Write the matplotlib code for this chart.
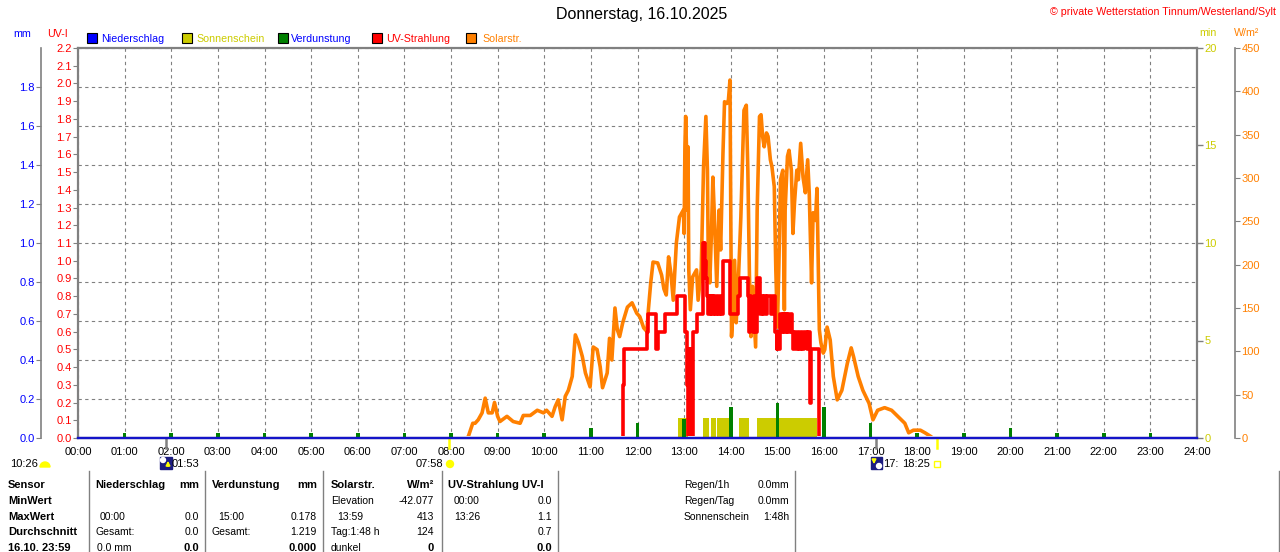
import matplotlib
matplotlib.use('Agg')
import matplotlib.pyplot as plt
from matplotlib.patches import Rectangle, Wedge, Circle
from matplotlib.ticker import MultipleLocator
import numpy as np

plt.rcParams['font.family'] = ['Liberation Sans', 'DejaVu Sans']

# ---------------- Daten ----------------
hours = list(range(25))
hour_labels = ['%02d:00' % h for h in hours]

# Niederschlag (mm) - den ganzen Tag 0
rain_mm = [0.0, 0.0, 0.0, 0.0, 0.0, 0.0, 0.0, 0.0, 0.0, 0.0, 0.0, 0.0, 0.0,
           0.0, 0.0, 0.0, 0.0, 0.0, 0.0, 0.0, 0.0, 0.0, 0.0, 0.0, 0.0]

# Verdunstung (mm) je Stunde
evap_h = [1, 2, 3, 4, 5, 6, 7, 8, 9, 10, 11, 12, 13, 14, 15, 16, 17, 18, 19, 20, 21, 22, 23]
evap_mm = [0.025, 0.025, 0.025, 0.025, 0.025, 0.025, 0.025, 0.025, 0.025, 0.025, 0.05, 0.077,
           0.1, 0.16, 0.178, 0.16, 0.077, 0.025, 0.025, 0.05, 0.025, 0.025, 0.025]

# Sonnenschein (min)
sun_start = ['12:52', '13:24', '13:35', '13:42', '14:10', '14:34']
sun_end = ['13:05', '13:32', '13:41', '13:58', '14:23', '15:51']
sun_min = [1.05, 1.05, 1.05, 1.05, 1.05, 1.05]

# Solarstrahlung (W/m2)
solar_t = ['00:00', '08:20', '08:22', '08:28', '08:31', '08:35', '08:40', '08:44', '08:48', '08:53',
           '08:56', '09:00', '09:03', '09:12', '09:20', '09:29', '09:33', '09:42', '09:51', '09:59',
           '10:03', '10:10', '10:14', '10:18', '10:23', '10:27', '10:31', '10:36', '10:40', '10:44',
           '10:49', '10:53', '10:59', '11:03', '11:08', '11:12', '11:15', '11:21', '11:24', '11:27',
           '11:31', '11:34', '11:37', '11:41', '11:47', '11:53', '11:59', '12:03', '12:08', '12:12',
           '12:14', '12:17', '12:20', '12:26', '12:31', '12:34', '12:37', '12:40', '12:43', '12:46',
           '12:50', '12:54', '12:59', '13:00', '13:01', '13:02', '13:03', '13:04', '13:05', '13:06',
           '13:08', '13:11', '13:16', '13:18', '13:22', '13:25', '13:28', '13:30', '13:31', '13:33',
           '13:35', '13:37', '13:39', '13:42', '13:45', '13:47', '13:50', '13:52', '13:55', '13:57',
           '13:59', '14:01', '14:02', '14:05', '14:07', '14:10', '14:13', '14:17', '14:20', '14:22',
           '14:24', '14:26', '14:28', '14:32', '14:34', '14:37', '14:39', '14:41', '14:43', '14:46',
           '14:48', '14:51', '14:53', '14:56', '14:58', '15:00', '15:02', '15:04', '15:07', '15:09',
           '15:10', '15:13', '15:15', '15:18', '15:20', '15:22', '15:25', '15:27', '15:30', '15:33',
           '15:36', '15:39', '15:41', '15:44', '15:46', '15:49', '15:51', '15:54', '15:56', '15:59',
           '16:01', '16:04', '16:08', '16:12', '16:17', '16:23', '16:30', '16:35', '16:38', '16:44',
           '16:50', '16:58', '17:03', '17:09', '17:18', '17:27', '17:35', '17:44', '17:49', '17:55',
           '18:04', '18:10', '18:17', '18:20']
solar_w = [0, 0, 1, 17, 17, 21, 29, 46, 29, 29,
           41, 25, 19, 25, 19, 17, 26, 26, 32, 29,
           32, 25, 36, 44, 21, 48, 55, 71, 119, 110,
           94, 75, 59, 105, 102, 82, 58, 75, 115, 90,
           150, 125, 117, 133, 151, 156, 144, 140, 127, 123,
           148, 179, 203, 202, 188, 172, 165, 209, 190, 159,
           225, 255, 263, 236, 336, 371, 336, 263, 336, 194,
           148, 186, 194, 159, 194, 313, 371, 309, 213, 179,
           232, 301, 255, 175, 263, 217, 329, 388, 386, 390,
           413, 117, 133, 205, 133, 186, 255, 378, 384, 309,
           190, 117, 175, 105, 263, 371, 373, 348, 336, 352,
           348, 321, 313, 290, 194, 128, 202, 298, 309, 148,
           263, 325, 332, 309, 236, 271, 309, 298, 340, 301,
           283, 321, 283, 179, 260, 251, 288, 125, 110, 98,
           102, 128, 113, 71, 44, 55, 86, 104, 94, 71,
           55, 40, 21, 32, 35, 32, 25, 17, 6, 9,
           9, 6, 2, 0]

# UV-Strahlung (UV-I)
uv_points = [('00:00', 0.0), ('11:41', 0.3), ('11:42', 0.5), ('12:12', 0.6), ('12:13', 0.7),
             ('12:24', 0.5), ('12:26', 0.6), ('12:35', 0.7), ('12:51', 0.8), ('13:01', 0.6),
             ('13:04', 0.3), ('13:05', 0.0), ('13:07', 0.5), ('13:08', 0.0), ('13:12', 0.6),
             ('13:16', 0.7), ('13:24', 1.1), ('13:25', 0.9), ('13:26', 1.1), ('13:27', 1.0),
             ('13:28', 0.9), ('13:30', 0.8), ('13:31', 0.7), ('13:32', 0.8), ('13:34', 0.7),
             ('13:35', 0.8), ('13:37', 0.7), ('13:38', 0.8), ('13:40', 0.7), ('13:42', 0.8),
             ('13:44', 0.7), ('13:46', 0.8), ('13:47', 0.7), ('13:50', 1.0), ('13:59', 0.7),
             ('14:09', 0.8), ('14:12', 0.9), ('14:22', 0.8), ('14:23', 0.6), ('14:25', 0.8),
             ('14:26', 0.7), ('14:28', 0.6), ('14:30', 0.8), ('14:31', 0.6), ('14:34', 0.9),
             ('14:38', 0.7), ('14:40', 0.8), ('14:42', 0.7), ('14:43', 0.8), ('14:45', 0.7),
             ('14:47', 0.8), ('14:52', 0.7), ('14:54', 0.8), ('14:57', 0.6), ('14:59', 0.5),
             ('15:00', 0.6), ('15:02', 0.5), ('15:04', 0.7), ('15:06', 0.6), ('15:07', 0.7),
             ('15:09', 0.6), ('15:10', 0.7), ('15:12', 0.6), ('15:13', 0.7), ('15:15', 0.6),
             ('15:17', 0.7), ('15:19', 0.6), ('15:20', 0.5), ('15:22', 0.6), ('15:24', 0.5),
             ('15:26', 0.6), ('15:28', 0.5), ('15:30', 0.6), ('15:32', 0.5), ('15:34', 0.6),
             ('15:38', 0.5), ('15:40', 0.6), ('15:42', 0.2), ('15:43', 0.5), ('15:53', 0.0),
             ('24:00', 0.0)]

# Auf-/Untergang (Mond, Sonne)
event_t = ['01:53', '07:58', '17:07', '18:25']
event_col = ['#808080', '#ffff00', '#808080', '#ffff00']

mm_ticks = [0.0, 0.2, 0.4, 0.6, 0.8, 1.0, 1.2, 1.4, 1.6, 1.8]
uv_ticks = [i / 10 for i in range(23)]
min_ticks = [0, 5, 10, 15, 20]
w_ticks = [0, 50, 100, 150, 200, 250, 300, 350, 400, 450]

C_BLUE = '#0000ff'
C_SUN = '#cccc00'
C_GREEN = '#008000'
C_RED = '#ff0000'
C_ORANGE = '#ff8000'
C_GRAY = '#808080'


def hrs(s):
    h, m = s.split(':')
    return int(h) + int(m) / 60.0


# ---------------- Figur ----------------
W, H = 1280, 552
L, R, T, B = 78, 1197, 48, 438
PT = 72 / 100  # px -> pt

fig = plt.figure(figsize=(W / 100, H / 100), dpi=100)
fig.patch.set_facecolor('white')
ax = fig.add_axes([L / W, 1 - B / H, (R - L) / W, (B - T) / H])
axw = ax.twinx()
axu = ax.twinx()
axm = ax.twinx()
# Verdunstung/Niederschlag zuoberst, wie im Original
axm.set_zorder(ax.get_zorder() + 1)

# Host-Achse: Sonnenschein (min) + Raster
ax.set_xlim(0, 24)
ax.set_ylim(0, 20)
ax.set_xticks(hours)
ax.set_xticklabels(hour_labels, fontsize=8)
ax.tick_params(axis='x', length=0, pad=6.5)
ax.yaxis.tick_right()
ax.set_yticks(min_ticks)
ax.set_yticklabels([str(v) for v in min_ticks], fontsize=8)
ax.tick_params(axis='y', which='major', colors=C_GRAY, labelcolor=C_SUN,
               length=6 * PT, width=1, pad=1)
ax.yaxis.set_minor_locator(MultipleLocator(2))
ax.yaxis.remove_overlapping_locs = False
ax.tick_params(axis='y', which='minor', length=0)
ax.grid(which='minor', axis='y', color=C_GRAY, ls=(0, (3, 3)), lw=0.8)
ax.grid(which='major', axis='x', color=C_GRAY, ls=(0, (3, 3)), lw=0.8)
for s in ax.spines.values():
    s.set_color(C_GRAY)
    s.set_linewidth(1.6)

starts = [hrs(s) for s in sun_start]
widths = [hrs(e) - hrs(s) for s, e in zip(sun_start, sun_end)]
ax.bar(starts, sun_min, width=widths, align='edge', color=C_SUN, zorder=2)

for t, c in zip(event_t, event_col):
    ax.plot([hrs(t), hrs(t)], [0, -0.52], color=c, lw=1.8, clip_on=False, zorder=5)

# Solarstrahlung (W/m2)
axw.set_ylim(0, 450)
axw.spines['right'].set_position(('outward', 38 * PT))
for k in ['left', 'top', 'bottom']:
    axw.spines[k].set_visible(False)
axw.spines['right'].set_color(C_GRAY)
axw.spines['right'].set_linewidth(1.2)
axw.set_yticks(w_ticks)
axw.set_yticklabels([str(v) for v in w_ticks], fontsize=8)
axw.tick_params(axis='y', colors=C_GRAY, labelcolor=C_ORANGE, length=5 * PT, pad=1)
solar_line, = axw.plot([hrs(t) for t in solar_t], solar_w, color=C_ORANGE, lw=2.6, zorder=3)
# Nullwerte nicht ueber der Grundlinie zeigen
solar_line.set_clip_path(Rectangle((0, 0.006), 1, 1, transform=axw.transAxes))

# UV-Strahlung (UV-I)
axu.set_ylim(0, 2.2)
axu.yaxis.tick_left()
for s in axu.spines.values():
    s.set_visible(False)
axu.set_yticks(uv_ticks)
axu.set_yticklabels(['%.1f' % v for v in uv_ticks], fontsize=8)
axu.tick_params(axis='y', colors=C_GRAY, labelcolor=C_RED, length=5 * PT, pad=1)
uv_h = [hrs(t) for t, v in uv_points]
uv_v = [v for t, v in uv_points]
uv_line, = axu.plot(uv_h, uv_v, drawstyle='steps-post', color=C_RED, lw=2.6, zorder=4)
uv_line.set_clip_path(Rectangle((0, 0.006), 1, 1, transform=axu.transAxes))

# Niederschlag / Verdunstung (mm)
axm.set_ylim(0, 2.0)
axm.yaxis.tick_left()
axm.spines['left'].set_position(('outward', 37 * PT))
for k in ['right', 'top', 'bottom']:
    axm.spines[k].set_visible(False)
axm.spines['left'].set_visible(True)
axm.spines['left'].set_color(C_GRAY)
axm.spines['left'].set_linewidth(1.2)
axm.set_yticks(mm_ticks)
axm.set_yticklabels(['%.1f' % v for v in mm_ticks], fontsize=8)
axm.tick_params(axis='y', colors=C_GRAY, labelcolor=C_BLUE, length=5 * PT, pad=1)
axm.bar(evap_h, evap_mm, width=0.08, color=C_GREEN, zorder=3)
axm.plot(hours, rain_mm, color='#1414c8', lw=1.7, clip_on=False, zorder=4)

# ---------------- Beschriftungen (Pixel-Overlay) ----------------
ov = fig.add_axes([0, 0, 1, 1])
ov.set_zorder(5)
ov.set_xlim(0, W)
ov.set_ylim(H, 0)
ov.axis('off')
ov.patch.set_alpha(0)

ov.text(642, 15, 'Donnerstag, 16.10.2025', fontsize=11.5, ha='center', va='center')
ov.text(1276, 12, '\u00a9 private Wetterstation Tinnum/Westerland/Sylt', fontsize=7.7,
        color=C_RED, ha='right', va='center')

ov.text(22, 34, 'mm', fontsize=7.7, color=C_BLUE, ha='center', va='center')
ov.text(57, 34, 'UV-I', fontsize=7.7, color=C_RED, ha='center', va='center')
ov.text(1208, 33, 'min', fontsize=7.7, color=C_SUN, ha='center', va='center')
ov.text(1247, 33, 'W/m\u00b2', fontsize=7.7, color=C_ORANGE, ha='center', va='center')

legend = [('Niederschlag', C_BLUE, C_BLUE, 87, 101),
          ('Sonnenschein', C_SUN, C_SUN, 182, 196),
          ('Verdunstung', C_GREEN, C_BLUE, 278, 291),
          ('UV-Strahlung', C_RED, C_RED, 372, 386),
          ('Solarstr.', C_ORANGE, C_ORANGE, 466, 482)]
for name, fc, tc, xs, xt in legend:
    ov.add_patch(Rectangle((xs, 33), 10, 10, facecolor=fc, edgecolor='black', lw=0.8))
    ov.text(xt, 38.5, name, fontsize=7.7, color=tc, ha='left', va='center')

# Auf-/Untergangszeiten unter der Achse
ov.text(10, 464, '10:26', fontsize=8, ha='left', va='center')
ov.add_patch(Wedge((45, 467), 5, 180, 360, color='#ffff00'))
ov.add_patch(Rectangle((160, 457), 12, 12, color='#1c1c80'))
ov.add_patch(Circle((163, 460), 2.5, color='white'))
ov.annotate('', xy=(168, 458), xytext=(168, 469),
            arrowprops=dict(arrowstyle='-|>', color='#ffff00', lw=1.2, mutation_scale=6))
ov.text(172, 464, '01:53', fontsize=8, ha='left', va='center')
ov.text(443, 464, '07:58', fontsize=8, ha='right', va='center')
ov.add_patch(Circle((450, 464), 3.5, color='#ffff00'))
ov.add_patch(Rectangle((871, 457), 11, 12, color='#1c1c80'))
ov.add_patch(Circle((879, 466), 2.5, color='white'))
ov.annotate('', xy=(874, 467), xytext=(874, 457),
            arrowprops=dict(arrowstyle='-|>', color='#ffff00', lw=1.2, mutation_scale=6))
ov.text(883, 464, '17:', fontsize=8, ha='left', va='center')
ov.text(902, 464, '18:25', fontsize=8, ha='left', va='center')
ov.add_patch(Rectangle((934, 461), 6, 6, facecolor='none', edgecolor='#ffff00', lw=1))

# Tabelle
for xs in [89, 205, 323, 442, 558, 795, 1279]:
    ov.plot([xs, xs], [471, 552], color=C_GRAY, lw=1)

rows = [485, 501, 517, 532, 548]
row_names = ['Sensor', 'MinWert', 'MaxWert', 'Durchschnitt', '16.10. 23:59']
for y, n in zip(rows, row_names):
    ov.text(8, y, n, fontsize=8, fontweight='bold', ha='left', va='center')

cells = [
    # (x, Zeile, Text, ha, fett)
    (95, 0, 'Niederschlag', 'left', True), (199, 0, 'mm', 'right', True),
    (100, 2, '00:00', 'left', False), (199, 2, '0.0', 'right', False),
    (95, 3, 'Gesamt:', 'left', False), (199, 3, '0.0', 'right', False),
    (97, 4, '0.0 mm', 'left', False), (199, 4, '0.0', 'right', True),
    (212, 0, 'Verdunstung', 'left', True), (317, 0, 'mm', 'right', True),
    (218, 2, '15:00', 'left', False), (317, 2, '0.178', 'right', False),
    (212, 3, 'Gesamt:', 'left', False), (317, 3, '1.219', 'right', False),
    (317, 4, '0.000', 'right', True),
    (331, 0, 'Solarstr.', 'left', True), (434, 0, 'W/m\u00b2', 'right', True),
    (331, 1, 'Elevation', 'left', False), (434, 1, '-42.077', 'right', False),
    (337, 2, '13:59', 'left', False), (434, 2, '413', 'right', False),
    (331, 3, 'Tag:1:48 h', 'left', False), (434, 3, '124', 'right', False),
    (331, 4, 'dunkel', 'left', False), (434, 4, '0', 'right', True),
    (448, 0, 'UV-Strahlung UV-I', 'left', True),
    (454, 1, '00:00', 'left', False), (552, 1, '0.0', 'right', False),
    (454, 2, '13:26', 'left', False), (552, 2, '1.1', 'right', False),
    (552, 3, '0.7', 'right', False), (552, 4, '0.0', 'right', True),
    (684, 0, 'Regen/1h', 'left', False), (789, 0, '0.0mm', 'right', False),
    (684, 1, 'Regen/Tag', 'left', False), (789, 1, '0.0mm', 'right', False),
    (684, 2, 'Sonnenschein', 'left', False), (789, 2, '1:48h', 'right', False),
]
for x, r, txt, ha, bold in cells:
    ov.text(x, rows[r], txt, fontsize=8 if bold else 7.5,
            fontweight='bold' if bold else 'normal', ha=ha, va='center')

plt.savefig('out.png', dpi=100)
plt.close()
print('out.png generado')
